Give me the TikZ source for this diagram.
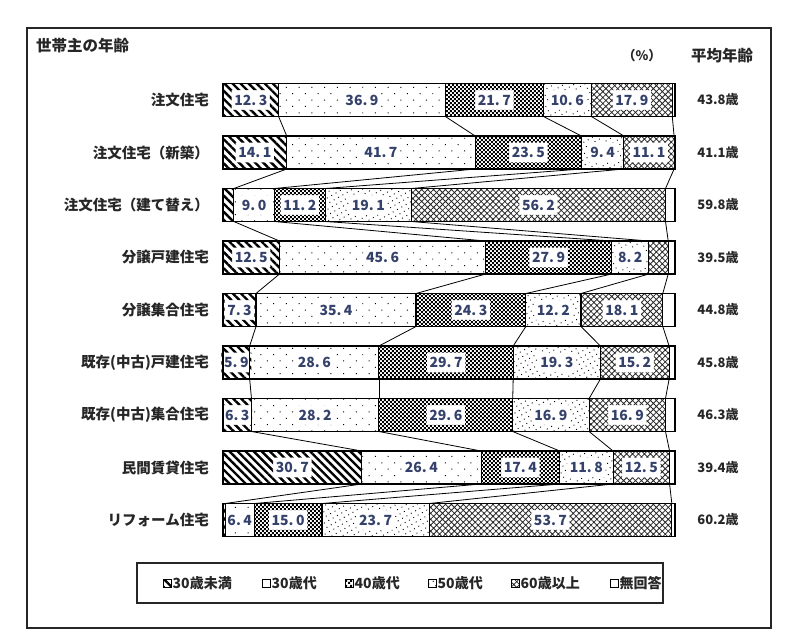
\documentclass[tikz,border=0pt]{standalone}
\usepackage{fontspec}
\setmainfont{Noto Sans CJK JP}
\usetikzlibrary{patterns.meta}

\definecolor{numblue}{HTML}{34416A}
\definecolor{inkgray}{HTML}{262626}

% checker pattern for the 40s
\tikzdeclarepattern{
  name=checker,
  type=uncolored,
  bottom left={(0pt,0pt)},
  top right={(4.4pt,4.4pt)},
  tile size={(4.4pt,4.4pt)},
  code={
    \fill (0pt,0pt) rectangle (2.2pt,2.2pt);
    \fill (2.2pt,2.2pt) rectangle (4.4pt,4.4pt);
  }
}

\def\pctfmt#1.#2\relax{#1.\kern2.5pt#2}

\begin{document}
\begin{tikzpicture}[x=1pt,y=-1pt,
    pat1/.style={pattern={Lines[angle=-45,distance=5.7pt,line width=2.4pt]}},
    pat2/.style={pattern={Dots[angle=45,distance=9pt,radius=0.7pt]}},
    pat3/.style={pattern=checker},
    pat4/.style={pattern={Dots[angle=30,distance=5pt,radius=0.65pt]}},
    pat5/.style={pattern={Hatch[angle=45,distance=4.2pt,line width=0.8pt]}, pattern color=black!85},
    pat6/.style={fill=white},
    seg/.style={minimum height=33pt, inner sep=0pt, outer sep=0pt, anchor=west},
    segline/.style={line width=1.1pt},
    numlabel/.style={inner xsep=2.5pt, inner ysep=4.5pt, text=numblue, font=\fontsize{14}{16}\selectfont\bfseries},
    catlabel/.style={anchor=east, inner sep=0pt, text=inkgray, font=\fontsize{14.5}{17}\selectfont\bfseries},
    agelabel/.style={inner sep=0pt, text=inkgray, font=\fontsize{13}{15}\selectfont\bfseries},
    headlabel/.style={inner sep=0pt, text=inkgray, font=\fontsize{15.5}{18}\selectfont\bfseries},
    joinline/.style={line width=0.8pt},
    legkey/.style={draw, line width=1pt, minimum size=8pt, inner sep=0pt, outer sep=0pt},
    legtext/.style={anchor=west, inner sep=1.5pt, text=inkgray, font=\fontsize{14}{16}\selectfont\bfseries}]
  \useasboundingbox (0,0) rectangle (804,641);
  \draw[line width=1.3pt, inkgray] (27,28) rectangle (771,628);

  \node[headlabel, anchor=west] (title) at (36,46) {世帯主の年齢};
  \node[headlabel, font=\fontsize{13}{15}\selectfont\bfseries] (unit) at (642,56) {（\%）};
  \node[headlabel] (avg) at (722,56) {平均年齢};

  % bars
  \foreach \lab/\vals/\age [count=\i] in {
      注文住宅/{12.3,36.9,21.7,10.6,17.9,0.6}/43.8,
      注文住宅（新築）/{14.1,41.7,23.5,9.4,11.1,0.2}/41.1,
      注文住宅（建て替え）/{2.4,9.0,11.2,19.1,56.2,2.1}/59.8,
      分譲戸建住宅/{12.5,45.6,27.9,8.2,4.3,1.5}/39.5,
      分譲集合住宅/{7.3,35.4,24.3,12.2,18.1,2.7}/44.8,
      既存(中古)戸建住宅/{5.9,28.6,29.7,19.3,15.2,1.3}/45.8,
      既存(中古)集合住宅/{6.3,28.2,29.6,16.9,16.9,2.1}/46.3,
      民間賃貸住宅/{30.7,26.4,17.4,11.8,12.5,1.2}/39.4,
      リフォーム住宅/{0.5,6.4,15.0,23.7,53.7,0.7}/60.2}{
    \pgfmathsetmacro\y{100+(\i-1)*52.5}
    \node[catlabel] (cat-\i) at (209,\y) {\lab};
    \node[agelabel] (age-\i) at (718,\y) {\age 歳};
    \gdef\cum{0}
    \foreach \v [count=\k] in \vals {
      \pgfmathsetmacro\xa{223+\cum*4.52}
      \pgfmathsetmacro\w{\v*4.52}
      \node[seg, minimum width=\w pt] (seg-\i-\k) at (\xa,\y) {};
      \ifdim\v pt>5pt
        % pattern round the white label box
        \node[numlabel] (num-\i-\k) at (seg-\i-\k.center) {\expandafter\pctfmt\v\relax};
        \path[pat\k, even odd rule] (seg-\i-\k.south west) rectangle (seg-\i-\k.north east)
          (num-\i-\k.south west) rectangle (num-\i-\k.north east);
      \else
        \path[pat\k] (seg-\i-\k.south west) rectangle (seg-\i-\k.north east);
      \fi
      \draw[segline] (seg-\i-\k.south west) rectangle (seg-\i-\k.north east);
      \pgfmathsetmacro\xb{\cum+\v}
      \xdef\cum{\xb}
    }
  }

  % lines between the bars
  \foreach \i in {1,...,8}{
    \pgfmathtruncatemacro\j{\i+1}
    \foreach \k in {1,...,5}
      \draw[joinline] (seg-\i-\k.south east) -- (seg-\j-\k.north east);
  }

  % legend
  \draw[line width=1.2pt, inkgray] (137,563) rectangle (663,603);
  \foreach \t/\x [count=\k] in {30歳未満/167, 30歳代/266, 40歳代/349, 50歳代/432, 60歳以上/515, 無回答/614}{
    \node[legkey, pat\k] (key-\k) at (\x,583) {};
    \node[legtext] (keytext-\k) at (key-\k.east) {\t};
  }
\end{tikzpicture}
\end{document}
